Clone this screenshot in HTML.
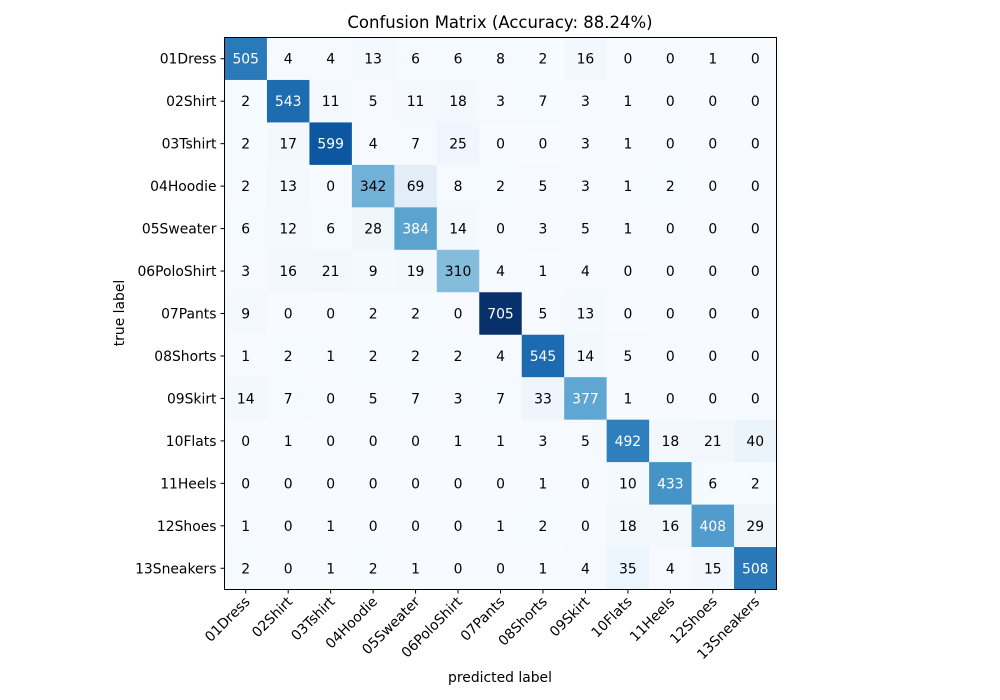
<!DOCTYPE html>
<html><head><meta charset="utf-8"><style>
html,body{margin:0;padding:0;background:#fff;}
svg{display:block;font-family:"DejaVu Sans","Liberation Sans",sans-serif;}
</style></head><body>
<svg id="chart" width="1000" height="700" viewBox="0 0 1000 700">
<text x="500" y="28" text-anchor="middle" font-size="16.5" fill="#000">Confusion Matrix (Accuracy: 88.24%)</text>
<g id="cells"></g>
<g id="ticks"></g>
<rect x="224.5" y="37.5" width="552" height="552" fill="none" stroke="#000" stroke-width="1"/>
<text x="500" y="682" text-anchor="middle" font-size="13.9">predicted label</text>
<text transform="translate(124,313) rotate(-90)" text-anchor="middle" font-size="13.9">true label</text>
</svg>
<script>
const classes = ["01Dress","02Shirt","03Tshirt","04Hoodie","05Sweater","06PoloShirt","07Pants","08Shorts","09Skirt","10Flats","11Heels","12Shoes","13Sneakers"];
const matrix = [
[505,4,4,13,6,6,8,2,16,0,0,1,0],
[2,543,11,5,11,18,3,7,3,1,0,0,0],
[2,17,599,4,7,25,0,0,3,1,0,0,0],
[2,13,0,342,69,8,2,5,3,1,2,0,0],
[6,12,6,28,384,14,0,3,5,1,0,0,0],
[3,16,21,9,19,310,4,1,4,0,0,0,0],
[9,0,0,2,2,0,705,5,13,0,0,0,0],
[1,2,1,2,2,2,4,545,14,5,0,0,0],
[14,7,0,5,7,3,7,33,377,1,0,0,0],
[0,1,0,0,0,1,1,3,5,492,18,21,40],
[0,0,0,0,0,0,0,1,0,10,433,6,2],
[1,0,1,0,0,0,1,2,0,18,16,408,29],
[2,0,1,2,1,0,0,1,4,35,4,15,508]
];
const NS="http://www.w3.org/2000/svg";
const x0=224.5,y0=37.5,W=552,n=classes.length,cw=W/n;
const xPos=i=>x0+i*cw, yPos=j=>y0+j*cw;
const stops=["#f7fbff","#deebf7","#c6dbef","#9ecae1","#6baed6","#4292c6","#2171b5","#08519c","#08306b"].map(h=>[1,3,5].map(k=>parseInt(h.substr(k,2),16)));
function blues(t){t=Math.max(0,Math.min(1,t));const p=t*8,i=Math.min(7,Math.floor(p)),f=p-i;const a=stops[i],b=stops[i+1];return "rgb("+a.map((v,k)=>Math.round(v+(b[k]-v)*f)).join(",")+")";}
let vmax=0;matrix.forEach(r=>r.forEach(v=>{if(v>vmax)vmax=v;}));
const cells=document.getElementById("cells"),ticks=document.getElementById("ticks");
matrix.forEach((row,j)=>row.forEach((v,i)=>{
 const r=document.createElementNS(NS,"rect");
 r.setAttribute("x",xPos(i));r.setAttribute("y",yPos(j));r.setAttribute("width",cw+0.5);r.setAttribute("height",cw+0.5);
 r.setAttribute("fill",blues(v/vmax));
 
 
 cells.appendChild(r);
 const t=document.createElementNS(NS,"text");
 t.setAttribute("x",xPos(i)+cw/2);t.setAttribute("y",yPos(j)+cw/2+5);t.setAttribute("text-anchor","middle");t.setAttribute("font-size","13.9");
 t.setAttribute("fill",v>vmax/2?"#fff":"#000");t.textContent=v;
 
 
 cells.appendChild(t);
}));
classes.forEach((c,i)=>{
 const cx=xPos(i)+cw/2, cy=yPos(i)+cw/2;
 const l=document.createElementNS(NS,"line");
 l.setAttribute("x1",cx);l.setAttribute("x2",cx);l.setAttribute("y1",y0+W);l.setAttribute("y2",y0+W+4);l.setAttribute("stroke","#000");
 
 
 ticks.appendChild(l);
 const l2=document.createElementNS(NS,"line");
 l2.setAttribute("x1",x0-4);l2.setAttribute("x2",x0);l2.setAttribute("y1",cy);l2.setAttribute("y2",cy);l2.setAttribute("stroke","#000");
 
 
 ticks.appendChild(l2);
 const tx=document.createElementNS(NS,"text");
 tx.setAttribute("transform","translate("+(cx+5)+","+(y0+W+13)+") rotate(-45)");
 tx.setAttribute("text-anchor","end");tx.setAttribute("font-size","13.9");tx.textContent=c;
 
 
 ticks.appendChild(tx);
 const ty=document.createElementNS(NS,"text");
 ty.setAttribute("x",x0-8);ty.setAttribute("y",cy+5);ty.setAttribute("text-anchor","end");ty.setAttribute("font-size","13.9");ty.textContent=c;
 
 
 ticks.appendChild(ty);
});
</script>
</body></html>
